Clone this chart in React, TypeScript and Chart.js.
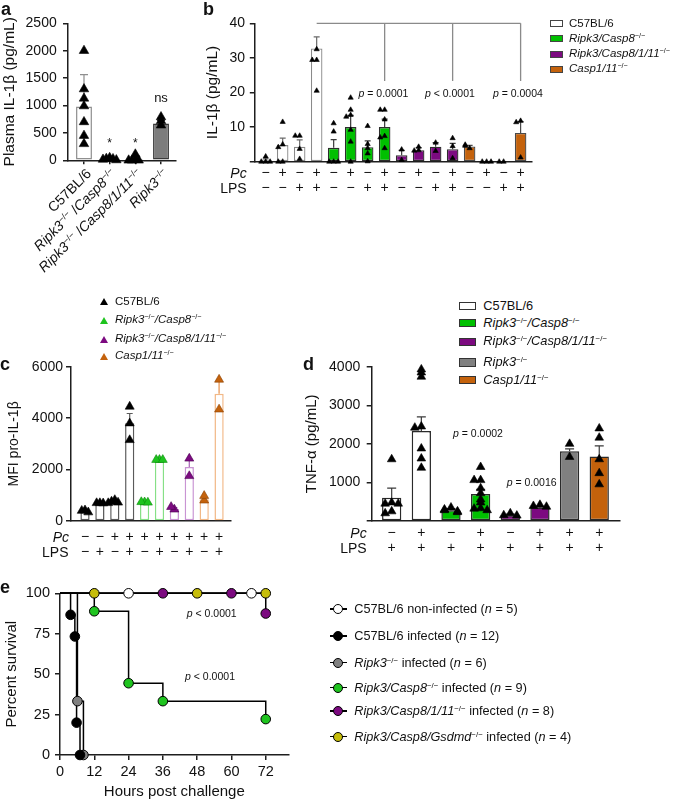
import React, { useEffect, useRef } from 'react';
import { Chart, registerables } from 'chart.js';

Chart.register(...registerables);

const FONT = '"Liberation Sans", Arial, Helvetica, sans-serif';
Chart.defaults.font.family = FONT;
Chart.defaults.color = '#111';

const AX = '#1e1e1e';
const GREEN = '#00c000';
const PURPLE = '#7c0a80';
const ORANGE = '#c4620c';
const GRAY = '#808080';
const MINUS = '\u2212';
const PLUS = '+';

// ---------------- Panel a : plasma IL-1β ----------------
const aGroups = ['C57BL/6', 'Ripk3/Casp8', 'Ripk3/Casp8/1/11', 'Ripk3'];
const aMeans = [980, 25, 24, 670];
const aSem = [585, 8, 20, 60];
const aPoints = [
  [2000, 1300, 1130, 990, 700, 450, 300],
  [45, 30, 25, 15, 5],
  [110, 10, 0, 0, 0],
  [790, 720, 640],
];
const aSig = ['', '*', '*', 'ns'];
const aSigAt = [0, 245, 245, 1056];

// ---------------- Panel b : IL-1β in vitro ----------------
const bGroups = ['C57BL/6', 'Ripk3/Casp8', 'Ripk3/Casp8/1/11', 'Casp1/11'];
const bGroupOf = [0, 0, 0, 0, 1, 1, 1, 1, 2, 2, 2, 2, 3, 3, 3, 3];
const bPc = [MINUS, PLUS, MINUS, PLUS, MINUS, PLUS, MINUS, PLUS, MINUS, PLUS, MINUS, PLUS, MINUS, PLUS, MINUS, PLUS];
const bLps = [MINUS, MINUS, PLUS, PLUS, MINUS, MINUS, PLUS, PLUS, MINUS, MINUS, PLUS, PLUS, MINUS, MINUS, PLUS, PLUS];
const bMeans = [0.4, 4.8, 4.3, 32.7, 4.0, 10.0, 4.2, 10.0, 1.9, 3.3, 4.3, 3.6, 4.4, 0, 0, 8.3];
const bSem = [0.4, 2.0, 2.0, 3.4, 2.4, 3.4, 1.8, 2.3, 1.4, 0.8, 1.2, 1.7, 0.3, 0, 0, 3.3];
const bPoints = [
  [1.5, 0, 0, 0],
  [11.5, 5, 4.2, 0, 0],
  [7.5, 7.5, 3.7, 0.8],
  [32.5, 29.4, 29.4, 20.5],
  [11.1, 8.7, 0, 0, 0],
  [18.5, 15, 13.5, 13, 9.2, 5.8, 0],
  [10.3, 5.1, 3.9, 2.4, 0.1],
  [15, 15, 12.2, 7.4, 7, 3.9],
  [3.5, 0.5],
  [4.3, 3.3, 3.2],
  [5.5, 3.1],
  [6.8, 4.5, 1],
  [3.9, 4.6, 4.9],
  [0, 0, 0],
  [0, 0],
  [11.8, 11.4, 1.2],
];
const bBracketStart = 3;
const bBracketEnds = [7, 11, 15];
const bBracketTop = 40;
const bBracketLow = 23.3;
const bPValues = ['= 0.0001', '< 0.0001', '= 0.0004'];
const bPAt = [6.93, 10.84, 14.84];
const bPLevel = 19.6;

// ---------------- Panel c : MFI pro-IL-1β ----------------
const cGroupOf = [0, 0, 0, 0, 1, 1, 2, 2, 3, 3];
const cPc = [MINUS, MINUS, PLUS, PLUS, PLUS, PLUS, PLUS, PLUS, PLUS, PLUS];
const cLps = [MINUS, PLUS, MINUS, PLUS, MINUS, PLUS, MINUS, PLUS, MINUS, PLUS];
const cMeans = [380, 680, 680, 3800, 680, 2350, 470, 2100, 850, 4950];
const cSem = [40, 20, 60, 380, 20, 20, 50, 300, 80, 550];
const cPoints = [
  [420, 400, 340],
  [700, 700, 690],
  [820, 760, 720, 700],
  [4450, 3800, 3150],
  [730, 740, 720],
  [2380, 2380, 2380],
  [450, 550],
  [2430, 1750],
  [800, 980],
  [5500, 4340],
];

// ---------------- Panel d : TNF-α ----------------
const dGroupOf = [0, 0, 1, 1, 2, 2, 3, 4];
const dPc = [MINUS, PLUS, MINUS, PLUS, MINUS, PLUS, PLUS, PLUS];
const dLps = [PLUS, PLUS, PLUS, PLUS, PLUS, PLUS, PLUS, PLUS];
const dMeans = [600, 2330, 280, 700, 150, 350, 1810, 1670];
const dSem = [250, 370, 40, 120, 30, 30, 60, 280];
const dPoints = [
  [1600, 480, 450, 450, 250, 200],
  [3930, 3850, 3740, 2450, 2420, 1880, 1620, 1380],
  [350, 300, 280, 250, 230],
  [1400, 1060, 1060, 850, 720, 560, 480, 330, 320, 280],
  [200, 150, 140],
  [420, 390, 370],
  [2000, 1660],
  [2400, 2160, 1600, 1240, 950],
];
const dPValues = ['= 0.0002', '= 0.0016'];
const dPAtX = [2.91, 4.72];
const dPAtY = [2255, 977];

// ---------------- Panel e : survival ----------------
const eGenes = ['C57BL/6', 'C57BL/6', 'Ripk3', 'Ripk3/Casp8', 'Ripk3/Casp8/1/11', 'Ripk3/Casp8/Gsdmd'];
const eState = ['non-infected', 'infected', 'infected', 'infected', 'infected', 'infected'];
const eKnockout = [false, false, true, true, true, true];
const eN = [5, 12, 6, 9, 8, 4];
const eTimes = [
  [0, 24, 67],
  [0, 3.7, 5.2, 5.8, 7.0],
  [0, 6.1, 8.2],
  [0, 12, 24, 36, 72],
  [0, 36, 60, 72],
  [0, 12, 48, 72],
];
const eSurv = [
  [100, 100, 100],
  [100, 86.7, 73.3, 20, 0],
  [100, 33.3, 0],
  [100, 88.9, 44.4, 33.3, 22.2],
  [100, 100, 100, 87.5],
  [100, 100, 100, 100],
];
const eColors = ['#ffffff', '#000000', GRAY, '#1fc41f', PURPLE, '#c6bd0a'];
const eDrawOrder = [0, 2, 1, 3, 4, 5];
const eXTicks = [0, 12, 24, 36, 48, 60, 72];
const ePValues = ['< 0.0001', '< 0.0001'];
const ePAtX = [53.1, 52.5];
const ePAtY = [87.2, 48.4];

// ---------------- helpers ----------------
function jitter(vals: number[], range: number, step: number) {
  return vals.map((v, k) => {
    let n = 0;
    for (let j = 0; j < k; j++) if (Math.abs(vals[j] - v) < range) n++;
    return n === 0 ? 0 : (n % 2 ? -1 : 1) * Math.ceil(n / 2) * step;
  });
}

function drawParts(ctx: any, parts: { t: string; it?: boolean }[], cx: number, cy: number, size: number) {
  ctx.save();
  ctx.fillStyle = '#111';
  ctx.textBaseline = 'middle';
  ctx.textAlign = 'left';
  const fonts = parts.map((p) => `${p.it ? 'italic ' : ''}${size}px ${FONT}`);
  const widths = parts.map((p, i) => {
    ctx.font = fonts[i];
    return ctx.measureText(p.t).width;
  });
  let x = cx - widths.reduce((a, b) => a + b, 0) / 2;
  parts.forEach((p, i) => {
    ctx.font = fonts[i];
    ctx.fillText(p.t, x, cy);
    x += widths[i];
  });
  ctx.restore();
}

function barConfig(o: any) {
  const pts: any[] = [];
  const pf: string[] = [];
  const pe: string[] = [];
  o.points.forEach((vals: number[], i: number) => {
    const offs = jitter(vals, o.jitRange, o.jitStep);
    vals.forEach((v, k) => {
      pts.push({ x: i + offs[k], y: v });
      pf.push(o.ptFill[o.groupOf[i]]);
      pe.push(o.ptEdge[o.groupOf[i]]);
    });
  });
  const plugin = {
    id: 'errAndNotes',
    afterDatasetDraw(chart: any, args: any) {
      if (args.meta.type !== 'bar') return;
      const { ctx } = chart;
      const xs = chart.scales.x;
      const ys = chart.scales.y;
      ctx.save();
      o.means.forEach((m: number, i: number) => {
        const s = o.sem[i];
        if (!s) return;
        const x = xs.getPixelForValue(i);
        const y0 = ys.getPixelForValue(m);
        const y1 = ys.getPixelForValue(m + s);
        ctx.strokeStyle = o.err[o.groupOf[i]];
        ctx.lineWidth = 1.2;
        ctx.beginPath();
        ctx.moveTo(x, y0);
        ctx.lineTo(x, y1);
        ctx.moveTo(x - o.cap, y1);
        ctx.lineTo(x + o.cap, y1);
        ctx.stroke();
      });
      ctx.restore();
    },
    afterDraw(chart: any) {
      if (o.annotate) o.annotate(chart);
    },
  };
  return {
    type: 'bar',
    data: {
      datasets: [
        {
          type: 'scatter',
          data: pts,
          pointStyle: 'triangle',
          pointRadius: o.ptR,
          pointBackgroundColor: pf,
          pointBorderColor: pe,
          pointBorderWidth: 0.6,
          order: 0,
          clip: false,
        },
        {
          type: 'bar',
          data: o.means.map((v: number, i: number) => ({ x: i, y: v })),
          backgroundColor: o.means.map((_: number, i: number) => o.fill[o.groupOf[i]]),
          borderColor: o.means.map((_: number, i: number) => o.border[o.groupOf[i]]),
          borderWidth: o.bw,
          borderSkipped: false,
          barPercentage: o.barPct,
          categoryPercentage: 1,
          order: 1,
        },
      ],
    },
    options: {
      animation: false,
      responsive: false,
      devicePixelRatio: 1,
      events: [],
      layout: { padding: o.pad },
      plugins: { legend: { display: false }, tooltip: { enabled: false } },
      scales: {
        x: {
          type: 'linear',
          min: o.xMin,
          max: o.xMax,
          offset: false,
          afterBuildTicks: (s: any) => {
            s.ticks = o.means.map((_: number, i: number) => ({ value: i }));
          },
          afterFit: (s: any) => {
            s.height = o.xH;
          },
          grid: {
            display: !!o.xTickMarks,
            offset: false,
            drawOnChartArea: false,
            drawTicks: !!o.xTickMarks,
            tickLength: 4,
            color: AX,
            lineWidth: 1.5,
          },
          border: { display: true, color: AX, width: 1.5 },
          ticks: {
            autoSkip: false,
            maxRotation: 0,
            minRotation: 0,
            padding: o.xPad,
            color: '#111',
            font: { size: o.xFont, lineHeight: `${o.xLine}px` },
            callback: (_v: any, i: number) => (o.xLabels ? o.xLabels[i] : ''),
          },
        },
        y: {
          type: 'linear',
          min: 0,
          max: o.yMax,
          afterFit: (s: any) => {
            s.width = o.yW;
          },
          grid: {
            drawOnChartArea: false,
            drawTicks: true,
            tickLength: o.yTickLen,
            color: AX,
            lineWidth: 1.5,
          },
          border: { display: true, color: AX, width: 1.5 },
          ticks: {
            stepSize: o.yStep,
            padding: o.yTickPad,
            color: '#111',
            font: { size: o.yFont },
            callback: (v: number) => (v === 0 && !o.zeroLabel ? '' : String(v)),
          },
          title: {
            display: true,
            text: o.yTitle,
            color: '#111',
            font: { size: o.yTitleSize },
            padding: { top: o.yTitlePad, bottom: 0 },
          },
        },
      },
    },
    plugins: [plugin],
  };
}

const configA = () =>
  barConfig({
    means: aMeans, sem: aSem, points: aPoints, groupOf: [0, 1, 2, 3],
    fill: ['#ffffff', '#ffffff', '#ffffff', '#7d7d7d'],
    border: ['#8f8f8f', '#8f8f8f', '#8f8f8f', '#3a3a3a'],
    err: ['#8f8f8f', '#8f8f8f', '#8f8f8f', '#3a3a3a'],
    ptFill: ['#000', '#000', '#000', '#000'], ptEdge: ['#000', '#000', '#000', '#000'],
    xMin: -0.623, xMax: 3.584, yMax: 2500, yStep: 500, zeroLabel: true,
    barPct: 0.62, bw: 1.5, ptR: 5.5, jitRange: 45, jitStep: 0.13, cap: 4,
    xLabels: null, xTickMarks: true, xPad: 0, xFont: 14, xLine: 15,
    yW: 68, xH: 12.7, pad: { top: 23.3, right: 14, left: 0, bottom: 0 },
    yTitle: 'Plasma IL-1β (pg/mL)', yTitleSize: 15.5, yTitlePad: 0, yTickPad: 6.3, yTickLen: 5, yFont: 14,
    annotate: (chart: any) => {
      const { ctx } = chart;
      ctx.save();
      ctx.fillStyle = '#111';
      ctx.textAlign = 'center';
      ctx.textBaseline = 'alphabetic';
      aSig.forEach((s, i) => {
        if (!s) return;
        ctx.font = `${s === 'ns' ? 13 : 12}px ${FONT}`;
        ctx.fillText(s, chart.scales.x.getPixelForValue(i), chart.scales.y.getPixelForValue(aSigAt[i]));
      });
      ctx.restore();
    },
  });

const configB = () =>
  barConfig({
    means: bMeans, sem: bSem, points: bPoints, groupOf: bGroupOf,
    fill: ['#ffffff', GREEN, PURPLE, ORANGE],
    border: ['#8a8a8a', '#2d2d2d', '#2d2d2d', '#4a4a4a'],
    err: ['#6a6a6a', '#3a3a3a', '#3a3a3a', '#4a4a4a'],
    ptFill: ['#000', '#000', '#000', '#000'], ptEdge: ['#000', '#000', '#000', '#000'],
    xMin: -0.67, xMax: 15.67, yMax: 40, yStep: 10, zeroLabel: false,
    barPct: 0.68, bw: 1.3, ptR: 3, jitRange: 0.9, jitStep: 0.26, cap: 3,
    xLabels: bPc.map((p, i) => [p, bLps[i]]), xTickMarks: false, xPad: 4.1, xFont: 14, xLine: 15,
    yW: 64.3, xH: 38.3, pad: { top: 23.3, right: 28, left: 0, bottom: 0 },
    yTitle: 'IL-1β (pg/mL)', yTitleSize: 15.5, yTitlePad: 13.7, yTickPad: 4.8, yTickLen: 4.5, yFont: 14,
    annotate: (chart: any) => {
      const { ctx } = chart;
      const xs = chart.scales.x;
      const ys = chart.scales.y;
      ctx.save();
      ctx.strokeStyle = '#8a8a8a';
      ctx.lineWidth = 1.3;
      ctx.beginPath();
      const yt = ys.getPixelForValue(bBracketTop);
      ctx.moveTo(xs.getPixelForValue(bBracketStart), yt);
      ctx.lineTo(xs.getPixelForValue(bBracketEnds[bBracketEnds.length - 1]), yt);
      bBracketEnds.forEach((e) => {
        ctx.moveTo(xs.getPixelForValue(e), yt);
        ctx.lineTo(xs.getPixelForValue(e), ys.getPixelForValue(bBracketLow));
      });
      ctx.stroke();
      ctx.restore();
      bPValues.forEach((p, k) => {
        drawParts(ctx, [{ t: 'p', it: true }, { t: ' ' + p }], xs.getPixelForValue(bPAt[k]), ys.getPixelForValue(bPLevel), 10.5);
      });
    },
  });

const configC = () =>
  barConfig({
    means: cMeans, sem: cSem, points: cPoints, groupOf: cGroupOf,
    fill: ['#ffffff', '#ffffff', '#ffffff', '#ffffff'],
    border: ['#5a5a5a', '#86e086', '#c994d3', '#f2b886'],
    err: ['#5a5a5a', '#5ed05e', '#a862b8', '#e8904a'],
    ptFill: ['#000000', '#1ec41e', '#7c0a80', '#c4620c'],
    ptEdge: ['#000000', '#0b8a0b', '#4a0050', '#8a4000'],
    xMin: -0.94, xMax: 9.8, yMax: 6000, yStep: 2000, zeroLabel: true,
    barPct: 0.62, bw: 1.5, ptR: 5.2, jitRange: 150, jitStep: 0.22, cap: 3,
    xLabels: cPc.map((p, i) => [p, cLps[i]]), xTickMarks: false, xPad: 9.1, xFont: 14, xLine: 14.4,
    yW: 71, xH: 39, pad: { top: 26.7, right: 9, left: 0, bottom: 0 },
    yTitle: 'MFI pro-IL-1β', yTitleSize: 14, yTitlePad: 5.6, yTickPad: 3, yTickLen: 5, yFont: 14,
  });

const configD = () =>
  barConfig({
    means: dMeans, sem: dSem, points: dPoints, groupOf: dGroupOf,
    fill: ['#ffffff', GREEN, PURPLE, GRAY, ORANGE],
    border: ['#2a2a2a', '#2a2a2a', '#2a2a2a', '#2a2a2a', '#2a2a2a'],
    err: ['#3a3a3a', '#3a3a3a', '#3a3a3a', '#3a3a3a', '#3a3a3a'],
    ptFill: ['#000', '#000', '#000', '#000', '#000'], ptEdge: ['#000', '#000', '#000', '#000', '#000'],
    xMin: -0.674, xMax: 7.7, yMax: 4000, yStep: 1000, zeroLabel: false,
    barPct: 0.65, bw: 1.5, ptR: 5, jitRange: 70, jitStep: 0.22, cap: 4.5,
    xLabels: dPc.map((p, i) => [p, dLps[i]]), xTickMarks: false, xPad: 4.8, xFont: 14, xLine: 15,
    yW: 71.7, xH: 39, pad: { top: 26.7, right: 65, left: 0, bottom: 0 },
    yTitle: 'TNF-α (pg/mL)', yTitleSize: 15, yTitlePad: 3, yTickPad: 6.5, yTickLen: 5, yFont: 14,
    annotate: (chart: any) => {
      const xs = chart.scales.x;
      const ys = chart.scales.y;
      dPValues.forEach((p, k) => {
        drawParts(chart.ctx, [{ t: 'p', it: true }, { t: ' ' + p }], xs.getPixelForValue(dPAtX[k]), ys.getPixelForValue(dPAtY[k]), 10.5);
      });
    },
  });

const configE = () => {
  const lines = eDrawOrder.map((si, k) => ({
    type: 'line',
    data: eTimes[si].map((t, j) => ({ x: t, y: eSurv[si][j] })),
    stepped: 'before',
    borderColor: '#000',
    borderWidth: 1.5,
    fill: false,
    pointRadius: 0,
    clip: false,
    order: 100 - k,
  }));
  const marks = eDrawOrder.map((si, k) => ({
    type: 'line',
    showLine: false,
    data: eTimes[si].map((t, j) => ({ x: t, y: eSurv[si][j] })),
    pointRadius: eTimes[si].map((_, j) => (j === 0 ? 0 : 4.8)),
    pointBackgroundColor: eColors[si],
    pointBorderColor: '#000',
    pointBorderWidth: 1,
    clip: false,
    order: 50 - k,
  }));
  return {
    type: 'line',
    data: { datasets: [...lines, ...marks] },
    options: {
      animation: false,
      responsive: false,
      devicePixelRatio: 1,
      events: [],
      layout: { padding: { top: 23.3, right: 11.4, left: 0, bottom: 0 } },
      plugins: { legend: { display: false }, tooltip: { enabled: false } },
      scales: {
        x: {
          type: 'linear',
          min: 0,
          max: 80,
          afterBuildTicks: (s: any) => {
            s.ticks = eXTicks.map((v) => ({ value: v }));
          },
          afterFit: (s: any) => {
            s.height = 47;
          },
          grid: { drawOnChartArea: false, drawTicks: true, tickLength: 5, color: AX, lineWidth: 1.5 },
          border: { display: true, color: AX, width: 1.5 },
          ticks: { padding: 3, color: '#111', font: { size: 14.5 }, maxRotation: 0, autoSkip: false },
          title: { display: true, text: 'Hours post challenge', color: '#111', font: { size: 15 }, padding: { top: 0, bottom: 1.3 } },
        },
        y: {
          type: 'linear',
          min: 0,
          max: 100,
          afterFit: (s: any) => {
            s.width = 60;
          },
          grid: { drawOnChartArea: false, drawTicks: true, tickLength: 5, color: AX, lineWidth: 1.5 },
          border: { display: true, color: AX, width: 1.5 },
          ticks: { stepSize: 25, padding: 5, color: '#111', font: { size: 14.5 } },
          title: { display: true, text: 'Percent survival', color: '#111', font: { size: 15 }, padding: { top: 2.7, bottom: 0 } },
        },
      },
    },
    plugins: [
      {
        id: 'pvals',
        afterDraw(chart: any) {
          const xs = chart.scales.x;
          const ys = chart.scales.y;
          ePValues.forEach((p, k) => {
            drawParts(chart.ctx, [{ t: 'p', it: true }, { t: ' ' + p }], xs.getPixelForValue(ePAtX[k]), ys.getPixelForValue(ePAtY[k]), 10.5);
          });
        },
      },
    ],
  };
};

function ChartCanvas({ left, top, width, height, config }: any) {
  const ref = useRef<HTMLCanvasElement>(null);
  useEffect(() => {
    const chart = new Chart(ref.current as any, config() as any);
    return () => chart.destroy();
  }, []);
  return (
    <canvas
      ref={ref}
      width={width}
      height={height}
      style={{ position: 'absolute', left, top, width, height }}
    />
  );
}

function Txt({ x, y, size, align = 'left', bold = false, italic = false, children }: any) {
  const tx = align === 'center' ? '-50%' : align === 'right' ? '-100%' : '0';
  return (
    <div
      style={{
        position: 'absolute',
        left: x,
        top: y - 0.85 * size,
        fontSize: size,
        lineHeight: `${size}px`,
        fontFamily: FONT,
        fontWeight: bold ? 'bold' : 'normal',
        fontStyle: italic ? 'italic' : 'normal',
        whiteSpace: 'nowrap',
        transform: `translateX(${tx})`,
        color: '#111',
      }}
    >
      {children}
    </div>
  );
}

const Sup = () => (
  <sup style={{ fontSize: '0.62em', verticalAlign: '0.55em', lineHeight: 0, fontStyle: 'normal' }}>{MINUS}/{MINUS}</sup>
);

function RotLabel({ x, y, size, children }: any) {
  return (
    <div style={{ position: 'absolute', left: x, top: y, width: 0, height: 0 }}>
      <div
        style={{
          position: 'absolute',
          right: 0,
          top: -size / 2,
          fontSize: size,
          lineHeight: `${size}px`,
          fontFamily: FONT,
          whiteSpace: 'nowrap',
          transform: 'rotate(-45deg)',
          transformOrigin: '100% 50%',
          color: '#111',
        }}
      >
        {children}
      </div>
    </div>
  );
}

const aLabelNodes = [
  <>C57BL/6</>,
  <><i>Ripk3</i><Sup /> /<i>Casp8</i><Sup /></>,
  <><i>Ripk3</i><Sup /> /<i>Casp8/1/11</i><Sup /></>,
  <><i>Ripk3</i><Sup /></>,
];
const aLabelX = [88, 113.7, 139.3, 165];

const koNode = (name: string) => (name === 'C57BL/6' ? <>{name}</> : <><i>{name}</i><Sup /></>);
const koNode2 = (parts: string[]) => (
  <>
    {parts.map((p, i) => (
      <React.Fragment key={i}>
        <i>{(i > 0 ? '/' : '') + p}</i>
        <Sup />
      </React.Fragment>
    ))}
  </>
);

const bLegendNodes = [koNode('C57BL/6'), koNode('Ripk3/Casp8'), koNode('Ripk3/Casp8/1/11'), koNode('Casp1/11')];
const bLegendFill = ['#ffffff', GREEN, PURPLE, ORANGE];
const bLegendY = [23.3, 38.3, 54, 69];

const cLegendNodes = [<>C57BL/6</>, koNode2(['Ripk3', 'Casp8']), koNode2(['Ripk3', 'Casp8/1/11']), koNode2(['Casp1/11'])];
const cLegendColor = ['#000000', '#1ec41e', '#7c0a80', '#c4620c'];
const cLegendY = [301.7, 320, 339, 356];

const dLegendNodes = [<>C57BL/6</>, koNode2(['Ripk3', 'Casp8']), koNode2(['Ripk3', 'Casp8/1/11']), koNode2(['Ripk3']), koNode2(['Casp1/11'])];
const dLegendFill = ['#ffffff', GREEN, PURPLE, GRAY, ORANGE];
const dLegendY = [306, 323, 341.7, 362.3, 380];

const eLegendY = [609, 636, 662.7, 687.7, 711, 736.7];

export default function App() {
  return (
    <div
      style={{
        position: 'absolute',
        left: 0,
        top: 0,
        width: 685,
        height: 802,
        background: '#fff',
        overflow: 'hidden',
        fontFamily: FONT,
        color: '#111',
      }}
    >
      <ChartCanvas left={0} top={0} width={190} height={175} config={configA} />
      <ChartCanvas left={190} top={0} width={370} height={200} config={configB} />
      <ChartCanvas left={0} top={340} width={240} height={220} config={configC} />
      <ChartCanvas left={300} top={340} width={385} height={220} config={configD} />
      <ChartCanvas left={0} top={570} width={300} height={232} config={configE} />

      {/* panel letters */}
      <Txt x={1} y={15} size={18} bold>a</Txt>
      <Txt x={203} y={15} size={18} bold>b</Txt>
      <Txt x={0} y={370} size={18} bold>c</Txt>
      <Txt x={303} y={370} size={18} bold>d</Txt>
      <Txt x={0} y={593} size={18} bold>e</Txt>

      {/* panel a category labels */}
      {aLabelNodes.map((n, i) => (
        <RotLabel key={i} x={aLabelX[i]} y={171} size={14}>
          {n}
        </RotLabel>
      ))}

      {/* row labels */}
      <Txt x={246.7} y={173.3 + 5} size={14} align="right" italic>Pc</Txt>
      <Txt x={246.7} y={188.3 + 5} size={14} align="right">LPS</Txt>
      <Txt x={69} y={537.3 + 5} size={14} align="right" italic>Pc</Txt>
      <Txt x={68.5} y={551.7 + 5} size={14} align="right">LPS</Txt>
      <Txt x={366.7} y={533.3 + 5} size={14} align="right" italic>Pc</Txt>
      <Txt x={366.7} y={548.3 + 5} size={14} align="right">LPS</Txt>

      {/* legend b */}
      {bLegendNodes.map((n, k) => (
        <React.Fragment key={k}>
          <div
            style={{
              position: 'absolute', left: 550, top: bLegendY[k] - 3.5, width: 13, height: 7,
              background: bLegendFill[k], border: '1px solid #444', boxSizing: 'border-box',
            }}
          />
          <Txt x={569} y={bLegendY[k] + 4.1} size={11.5}>{n}</Txt>
        </React.Fragment>
      ))}

      {/* legend c */}
      {cLegendNodes.map((n, k) => (
        <React.Fragment key={k}>
          <div
            style={{
              position: 'absolute', left: 100.3, top: cLegendY[k] - 3.5, width: 0, height: 0,
              borderLeft: '4px solid transparent', borderRight: '4px solid transparent',
              borderBottom: `7px solid ${cLegendColor[k]}`,
            }}
          />
          <Txt x={115} y={cLegendY[k] + 4.1} size={11.5}>{n}</Txt>
        </React.Fragment>
      ))}

      {/* legend d */}
      {dLegendNodes.map((n, k) => (
        <React.Fragment key={k}>
          <div
            style={{
              position: 'absolute', left: 459.3, top: dLegendY[k] - 4.2, width: 17, height: 8.5,
              background: dLegendFill[k], border: '1px solid #333', boxSizing: 'border-box',
            }}
          />
          <Txt x={483.3} y={dLegendY[k] + 4.6} size={12.8}>{n}</Txt>
        </React.Fragment>
      ))}

      {/* legend e */}
      {eGenes.map((g, k) => (
        <React.Fragment key={k}>
          <div style={{ position: 'absolute', left: 330, top: eLegendY[k] - 0.75, width: 17, height: 1.5, background: '#000' }} />
          <div
            style={{
              position: 'absolute', left: 338.3 - 5, top: eLegendY[k] - 5, width: 10, height: 10,
              borderRadius: '50%', background: eColors[k], border: '1px solid #000', boxSizing: 'border-box',
            }}
          />
          <Txt x={354.3} y={eLegendY[k] + 4.6} size={12.7}>
            {eKnockout[k] ? <><i>{g}</i><Sup /></> : g} {eState[k]} (<i>n</i> = {eN[k]})
          </Txt>
        </React.Fragment>
      ))}
    </div>
  );
}
